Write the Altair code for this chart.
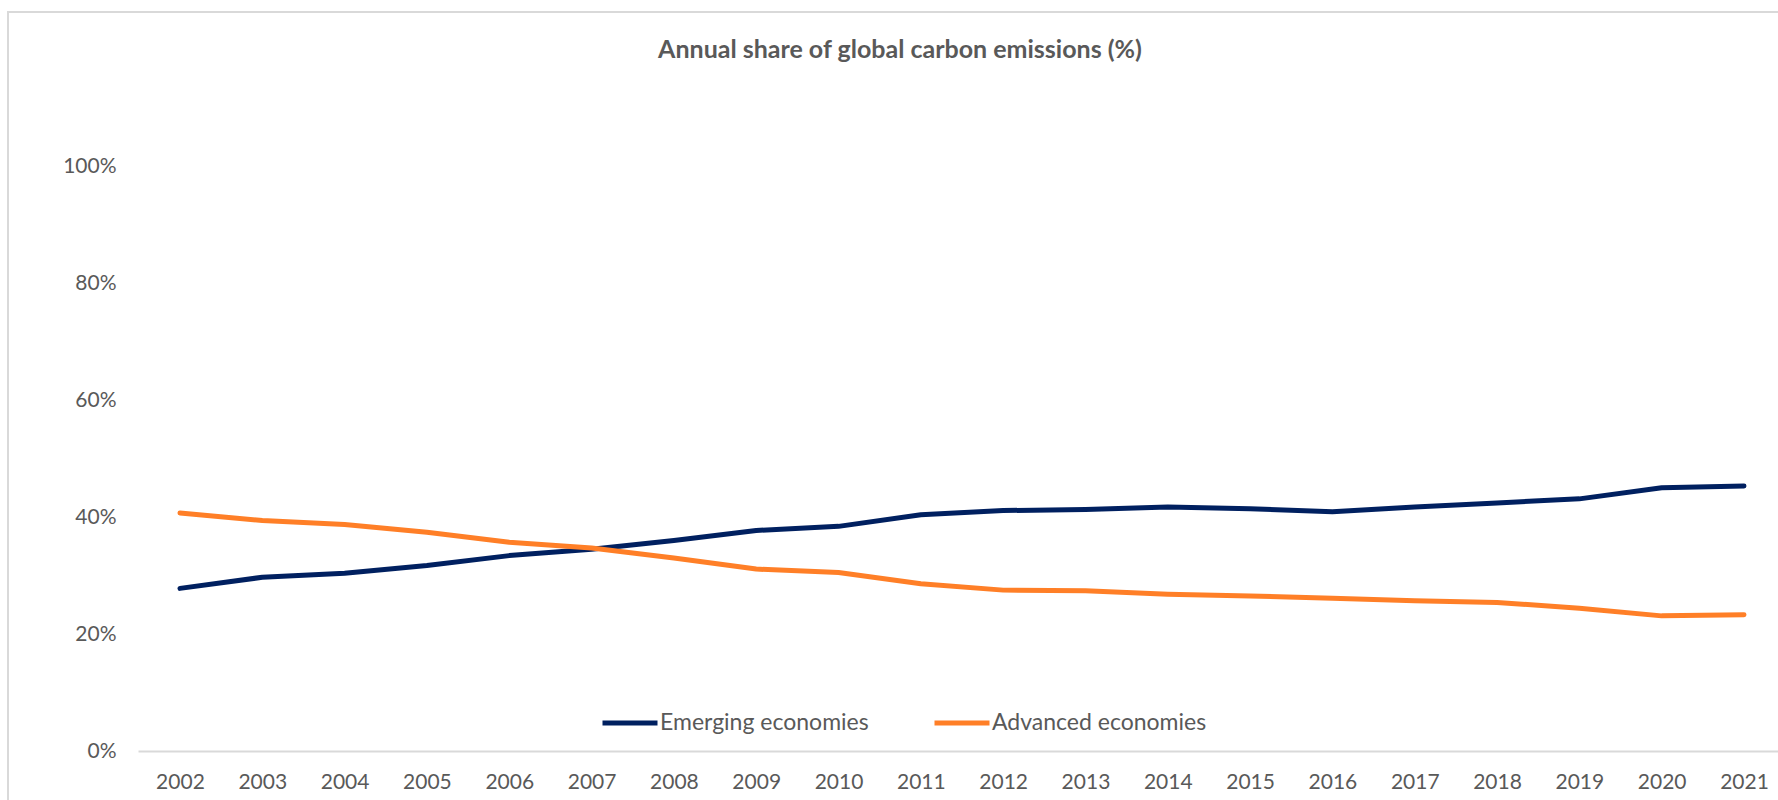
import altair as alt
import pandas as pd

# Annual share of global carbon emissions, in percent
years = list(range(2002, 2022))
emerging = [27.8, 29.7, 30.4, 31.7, 33.4, 34.5, 36.0, 37.7, 38.4, 40.4,
            41.1, 41.3, 41.7, 41.4, 40.9, 41.7, 42.4, 43.1, 45.0, 45.3]
advanced = [40.7, 39.4, 38.7, 37.4, 35.7, 34.7, 33.0, 31.1, 30.5, 28.6,
            27.5, 27.4, 26.8, 26.5, 26.1, 25.7, 25.4, 24.4, 23.1, 23.3]

series_names = ["Emerging economies", "Advanced economies"]
series_colors = ["#002060", "#FF7F27"]
y_ticks = [0, 20, 40, 60, 80, 100]
title_text = "Annual share of global carbon emissions (%)"

TEXT = "#595959"
FONT = "Lato"
FS = 21

rows = []
for name, vals in zip(series_names, [emerging, advanced]):
    for yr, v in zip(years, vals):
        rows.append({"year": yr, "share": v, "series": name})
df = pd.DataFrame(rows)

one = pd.DataFrame({"k": [0]})

# light frame around the chart area
frame = alt.Chart(one).mark_rect(
    filled=False, stroke="#D9D9D9", strokeWidth=2
).encode(
    x=alt.value(-130), x2=alt.value(1700),
    y=alt.value(-154), y2=alt.value(700),
)

# chart heading
heading = alt.Chart(one).mark_text(
    text=title_text, font=FONT, fontSize=25, fontWeight="bold",
    color=TEXT, align="center", baseline="middle",
).encode(x=alt.value(762), y=alt.value(-116))

lines = alt.Chart(df).mark_line(
    strokeWidth=5, strokeCap="round", strokeJoin="round"
).encode(
    x=alt.X(
        "year:Q",
        scale=alt.Scale(domain=[2001.49, 2021.413], nice=False, zero=False),
        axis=alt.Axis(
            values=years, format="d", title=None, grid=False, ticks=False,
            domain=True, domainColor="#D9D9D9", domainWidth=2,
            labelPadding=20, labelFontSize=FS, labelColor=TEXT, labelFont=FONT,
            labelFlush=False, labelOverlap=False,
        ),
    ),
    y=alt.Y(
        "share:Q",
        scale=alt.Scale(domain=[0, 100], nice=False),
        axis=alt.Axis(
            values=y_ticks, labelExpr="datum.value + '%'", title=None,
            grid=False, ticks=False, domain=False, labelPadding=22,
            labelFontSize=FS, labelColor=TEXT, labelFont=FONT,
        ),
    ),
    color=alt.Color(
        "series:N",
        scale=alt.Scale(domain=series_names, range=series_colors),
        sort=series_names,
        legend=alt.Legend(
            orient="none", legendX=462, legendY=527, direction="horizontal",
            title=None, symbolType="stroke", symbolSize=3025,
            symbolStrokeWidth=5, labelFontSize=23, labelFont=FONT,
            labelColor=TEXT, labelOffset=0, labelLimit=500,
            columnPadding=55, padding=0,
        ),
    ),
)

chart = alt.layer(frame, heading, lines).properties(
    width=1640,
    height=585,
    autosize=alt.AutoSizeParams(type="none"),
    padding={"left": 138, "top": 166, "right": 0, "bottom": 49},
    background="white",
).configure_view(stroke=None)

chart.save("out.html", embed_options={"renderer": "svg", "actions": False})
